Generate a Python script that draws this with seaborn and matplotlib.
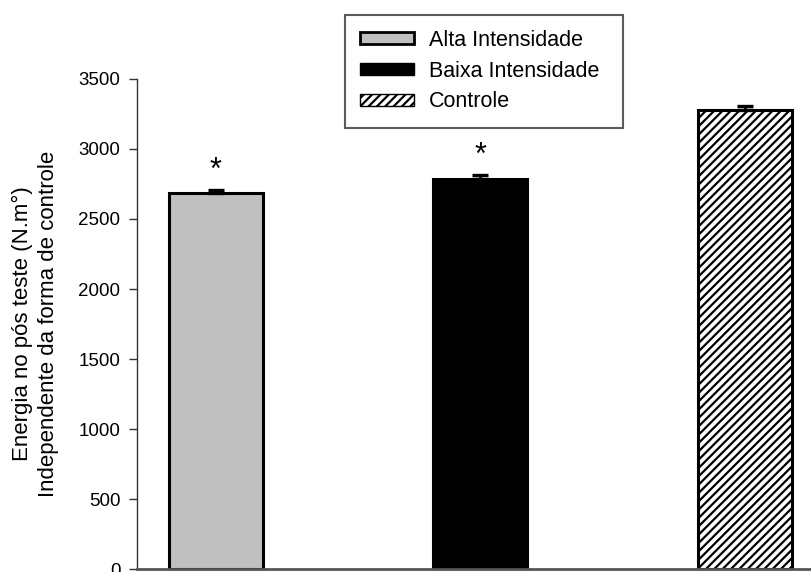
import matplotlib
matplotlib.use("Agg")
import matplotlib.pyplot as plt
import seaborn as sns
import pandas as pd
from matplotlib.patches import Patch

categories = ["Alta Intensidade", "Baixa Intensidade", "Controle"]
values = [2684, 2784, 3279]
errors = [23, 30, 30]
significant = [True, True, False]
yticks = [0, 500, 1000, 1500, 2000, 2500, 3000, 3500]
ylabel = "Energia no pós teste (N.m°)\nIndependente da forma de controle"

colors = ["#c0c0c0", "#000000", "#ffffff"]
hatches = ["", "", "////"]

sns.set_theme(style="white")
plt.rcParams["font.family"] = ["Liberation Sans", "DejaVu Sans"]
plt.rcParams["hatch.linewidth"] = 1.6
plt.rcParams["text.color"] = "black"
plt.rcParams["axes.labelcolor"] = "black"
plt.rcParams["ytick.color"] = "black"

df = pd.DataFrame({"cat": categories, "val": values})

fig = plt.figure(figsize=(8.11, 5.72), dpi=100)
ax = fig.add_axes([137 / 811, 3 / 572, 674 / 811, 490 / 572])

sns.barplot(data=df, x="cat", y="val", hue="cat", palette=colors, legend=False,
            width=0.355, errorbar=None, edgecolor="black", linewidth=2.2, ax=ax,
            order=categories, hue_order=categories)

for p, h in zip(ax.patches, hatches):
    p.set_hatch(h)

xs = list(range(len(categories)))
ax.errorbar(xs, values, yerr=[[0] * len(errors), errors], fmt="none",
            ecolor="black", elinewidth=2, capsize=6.1, capthick=2.4, zorder=1)

for x, v, e, s in zip(xs, values, errors, significant):
    if s:
        ax.annotate("*", (x, v + e), xytext=(0, 11), textcoords="offset pixels",
                    ha="center", va="baseline", fontsize=22, color="black")

ax.set_xlim(-0.2965, 2.249)
ax.set_ylim(0, 3500)
ax.set_yticks(yticks)
ax.set_yticklabels([str(t) for t in yticks], fontsize=13.5, color="black")
ax.set_xticks([])
ax.set_xlabel("")
ax.set_ylabel(ylabel, fontsize=16, labelpad=14, linespacing=1.3, color="black")

ax.tick_params(axis="y", direction="out", length=6, width=1, color="#333333",
               left=True, pad=6, labelcolor="black")
for side in ["top", "right"]:
    ax.spines[side].set_visible(False)
ax.spines["left"].set_color("#333333")
ax.spines["left"].set_linewidth(1)
ax.spines["bottom"].set_color("#555555")
ax.spines["bottom"].set_linewidth(2)

handles = [Patch(facecolor=c, edgecolor="black", hatch=h, linewidth=2 if i == 0 else 1)
           for i, (c, h) in enumerate(zip(colors, hatches))]
leg = fig.legend(handles, categories, loc="upper left",
                 bbox_to_anchor=(345 / 811, 1 - 126 / 572, 278 / 811, 111 / 572),
                 mode="expand", fontsize=15.5, frameon=True, fancybox=False,
                 borderpad=0.7, handlelength=2.5, handleheight=0.47,
                 handletextpad=0.7, labelspacing=0.45, borderaxespad=0)
leg.get_frame().set_edgecolor("#333333")
leg.get_frame().set_linewidth(1.5)
for t in leg.get_texts():
    t.set_color("black")

fig.savefig("out.png", dpi=100)
